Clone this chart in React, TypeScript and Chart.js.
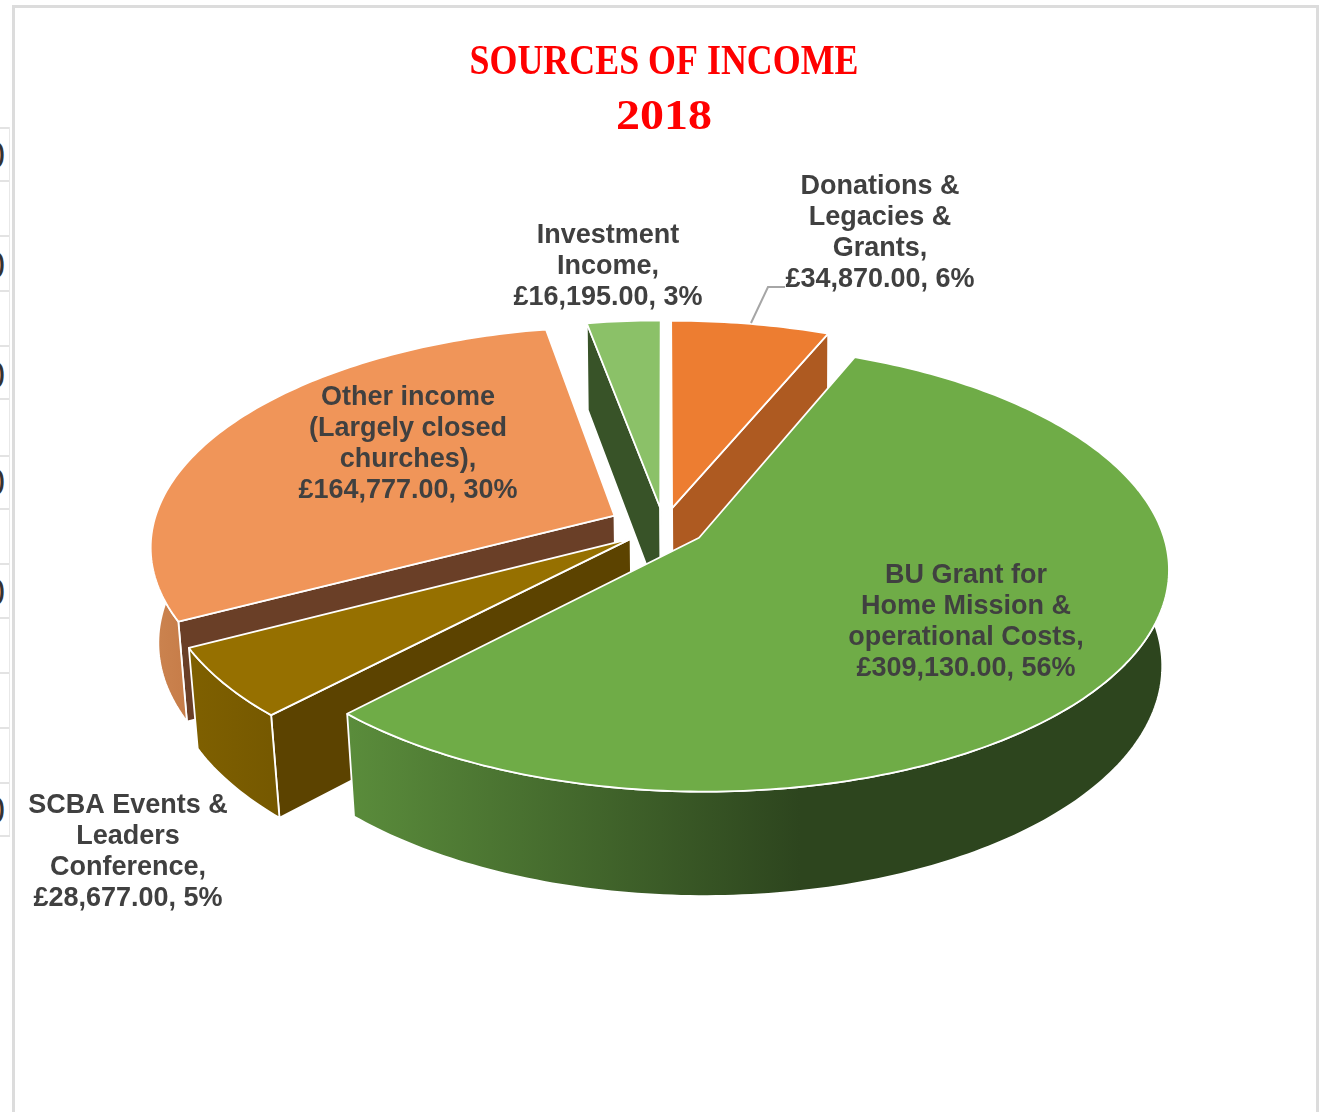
import React, { useEffect, useRef } from "react";
import { Chart, registerables } from "chart.js";

Chart.register(...registerables);

// ---- data (clockwise from 12 o'clock)
const categoryLines = [
  ["Donations &", "Legacies &", "Grants,"],
  ["BU Grant for", "Home Mission &", "operational Costs,"],
  ["SCBA Events &", "Leaders", "Conference,"],
  ["Other income", "(Largely closed", "churches),"],
  ["Investment", "Income,"],
];
const incomeValues = [34870, 309130, 28677, 164777, 16195];
const titleLines = ["SOURCES OF INCOME", "2018"];
const clippedCellTexts = ["0", "0", "0", "0", "0", "0"];

// ---- styles
const topColors = ["#ed7d31", "#6fac47", "#967000", "#f09559", "#8bc168"];
const cutColors = ["#ae5a21", "#2d451e", "#5c4300", "#6a3f27", "#385328"];
const wallColors = [
  ["#ae5a21", "#ae5a21"],
  ["#5a8c3b", "#2d451e"],
  ["#7f6000", "#755800"],
  ["#cc8450", "#c67c48"],
  ["#385328", "#385328"],
];
const wallGradientX = [
  [672, 828],
  [350, 800],
  [190, 280],
  [150, 190],
  [588, 660],
];
const sliceExplode = [0.09, 0.09, 0.09, 0.12, 0.09];
const paintOrder = [4, 0, 3, 2, 1];
const labelCenterX = [880, 966, 128, 408, 608];
const labelFirstLineY = [187, 576, 806, 398, 236];
const titleLineY = [63, 118];
const titleLineWidth = [389, 96];
const gridLineY = [127, 180, 235, 290, 345, 398, 455, 508, 563, 617, 672, 727, 782, 835];
const cellTextY = [156, 266, 376, 483, 593, 811];

const PLANE_TOP = { cx: 664, cy: 527, rx: 462, ry: 217, p: 0.133 };
const PLANE_BOTTOM = { cx: 664.6, cy: 623.5, rx: 456, ry: 225.7, p: 0.125 };

type Plane = typeof PLANE_TOP;
type Pt = [number, number];
const project = (pl: Plane, wx: number, wy: number): Pt => {
  const d = 1 - pl.p * wy;
  return [pl.cx + (pl.rx * wx) / d, pl.cy + (pl.ry * wy) / d];
};

const money = (v: number) =>
  "£" + v.toLocaleString("en-GB", { minimumFractionDigits: 2, maximumFractionDigits: 2 });

const poly = (ctx: CanvasRenderingContext2D, pts: Pt[], fill: any, line = 1.8) => {
  ctx.beginPath();
  pts.forEach((p, i) => (i ? ctx.lineTo(p[0], p[1]) : ctx.moveTo(p[0], p[1])));
  ctx.closePath();
  ctx.fillStyle = fill;
  ctx.fill();
  ctx.lineWidth = line;
  ctx.strokeStyle = "#ffffff";
  ctx.lineJoin = "round";
  ctx.stroke();
};

const cross = (a: Pt, b: Pt, c: Pt) => (b[0] - a[0]) * (c[1] - a[1]) - (b[1] - a[1]) * (c[0] - a[0]);

const pie3d = {
  id: "pie3d",
  beforeDatasetsDraw(chart: any) {
    const ctx: CanvasRenderingContext2D = chart.ctx;
    const arcs = chart.getDatasetMeta(0).data;
    ctx.save();
    for (const i of paintOrder) {
      const { startAngle, endAngle } = arcs[i].getProps(["startAngle", "endAngle"], true);
      const mid = (startAngle + endAngle) / 2;
      const ox = sliceExplode[i] * Math.cos(mid);
      const oy = sliceExplode[i] * Math.sin(mid);
      const n = Math.max(8, Math.round((endAngle - startAngle) * 60));
      const rim: Pt[] = [];
      for (let k = 0; k <= n; k++) {
        const a = startAngle + ((endAngle - startAngle) * k) / n;
        rim.push([ox + Math.cos(a), oy + Math.sin(a)]);
      }
      const T = (w: Pt) => project(PLANE_TOP, w[0], w[1]);
      const B = (w: Pt) => project(PLANE_BOTTOM, w[0], w[1]);
      const apex: Pt = [ox, oy];

      // radial cut faces: only those whose lower edge falls outside the top face
      const face = (corner: Pt, neighbour: Pt) => {
        const inside = cross(T(apex), T(corner), T(neighbour));
        const down = cross(T(apex), T(corner), B(corner));
        if (inside * down < 0) {
          poly(ctx, [T(apex), T(corner), B(corner), B(apex)], cutColors[i]);
        }
      };
      face(rim[0], rim[1]);
      face(rim[n], rim[n - 1]);

      // outer wall: only the part that faces the viewer
      const front = rim.filter((w) => w[1] - oy > -0.15);
      if (front.length > 1) {
        const g = ctx.createLinearGradient(wallGradientX[i][0], 0, wallGradientX[i][1], 0);
        g.addColorStop(0, wallColors[i][0]);
        g.addColorStop(1, wallColors[i][1]);
        poly(ctx, [...front.map(T), ...front.slice().reverse().map(B)], g);
      }

      // top face
      poly(ctx, [T(apex), ...rim.map(T)], topColors[i]);
    }
    ctx.restore();
    return false;
  },
  afterDraw(chart: any) {
    const ctx: CanvasRenderingContext2D = chart.ctx;
    const total = incomeValues.reduce((a, b) => a + b, 0);
    ctx.save();
    // title, each line fitted to its width
    ctx.font = 'bold 42px "Liberation Serif"';
    ctx.fillStyle = "#ff0000";
    ctx.textAlign = "center";
    ctx.textBaseline = "middle";
    titleLines.forEach((t, k) => {
      const w = ctx.measureText(t).width;
      ctx.save();
      ctx.translate(664, titleLineY[k]);
      ctx.scale(titleLineWidth[k] / w, 1);
      ctx.fillText(t, 0, 0);
      ctx.restore();
    });
    // leader line of the donations label
    ctx.beginPath();
    ctx.moveTo(751, 323);
    ctx.lineTo(768, 287);
    ctx.lineTo(785, 287);
    ctx.strokeStyle = "#a6a6a6";
    ctx.lineWidth = 2;
    ctx.stroke();
    // labels
    ctx.font = 'bold 27px "Liberation Sans"';
    ctx.fillStyle = "#404040";
    incomeValues.forEach((v, i) => {
      const lines = [
        ...categoryLines[i],
        `${money(v)}, ${Math.round((v / total) * 100)}%`,
      ];
      lines.forEach((t, k) => {
        ctx.fillText(t, labelCenterX[i], labelFirstLineY[i] + k * 30.8);
      });
    });
    ctx.restore();
  },
};

export default function App() {
  const ref = useRef<HTMLCanvasElement>(null);
  useEffect(() => {
    document.body.style.margin = "0";
    const chart = new Chart(ref.current!, {
      type: "pie",
      data: {
        labels: categoryLines.map((l) => l.join(" ")),
        datasets: [
          {
            data: incomeValues,
            backgroundColor: topColors,
            borderColor: "#ffffff",
          },
        ],
      },
      options: {
        animation: false,
        responsive: false,
        rotation: 0,
        layout: { padding: 0 },
        plugins: {
          legend: { display: false },
          tooltip: { enabled: false },
          title: { display: false, text: titleLines },
        },
      },
      plugins: [pie3d],
    } as any);
    return () => chart.destroy();
  }, []);

  return (
    <div
      style={{
        position: "absolute",
        left: 0,
        top: 0,
        width: 1326,
        height: 1112,
        overflow: "hidden",
        background: "#ffffff",
      }}
    >
      {gridLineY.map((y) => (
        <div
          key={y}
          style={{ position: "absolute", left: 0, top: y, width: 10, height: 2, background: "#e3e3e3" }}
        />
      ))}
      <div style={{ position: "absolute", left: 9, top: 127, width: 1, height: 708, background: "#e8e8e8" }} />
      {clippedCellTexts.map((t, i) => (
        <div
          key={i}
          style={{
            position: "absolute",
            left: -15,
            top: cellTextY[i] - 20,
            height: 40,
            font: '36px/40px "Liberation Sans"',
            color: "#333333",
          }}
        >
          {t}
        </div>
      ))}
      <div
        style={{
          position: "absolute",
          left: 12,
          top: 5,
          width: 1301,
          height: 1200,
          border: "3px solid #dcdcdc",
          background: "#ffffff",
        }}
      />
      <canvas ref={ref} width={1326} height={1112} style={{ position: "absolute", left: 0, top: 0, display: "block" }} />
    </div>
  );
}
